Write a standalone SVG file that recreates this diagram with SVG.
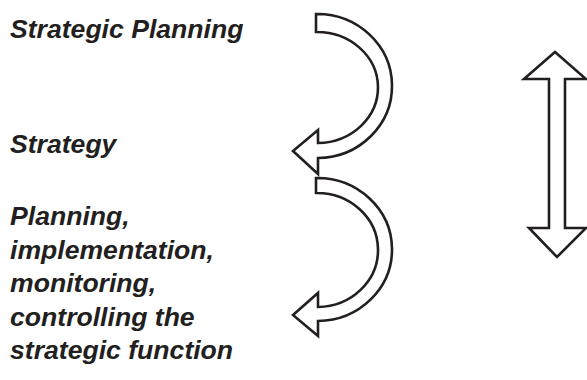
<svg xmlns="http://www.w3.org/2000/svg" width="587" height="380" viewBox="0 0 587 380">
  <style>
    .label { font-family: "Liberation Sans", Arial, sans-serif; font-weight: bold; font-style: italic; font-size: 26.6px; fill: #231f20; }
    .outline { fill: #ffffff; stroke: #231f20; stroke-width: 2.6; stroke-linejoin: miter; }
  </style>
  <rect width="587" height="380" fill="#ffffff"/>

  <g id="label-strategic-planning">
    <text class="label" x="10" y="38">Strategic Planning</text>
  </g>
  <g id="label-strategy">
    <text class="label" x="10" y="153">Strategy</text>
  </g>
  <g id="label-functions">
    <text class="label" x="10" y="225">Planning,</text>
    <text class="label" x="10" y="258.5">implementation,</text>
    <text class="label" x="10" y="292">monitoring,</text>
    <text class="label" x="10" y="325.5">controlling the</text>
    <text class="label" x="10" y="359">strategic function</text>
  </g>

  <g id="connectors">
    <!-- curved arrow: strategic planning to strategy -->
    <path id="arc-upper" class="outline" d="M316,14 A75,72 0 0 1 318,158 L318,174 L293,151 L318,130 L318,143 A61,55.5 0 0 0 316,32 Z"/>
    <!-- curved arrow: strategy to the functional tasks -->
    <path id="arc-lower" class="outline" d="M316,178 A75,71.5 0 0 1 318,321 L318,336 L293,315 L318,293 L318,307 A61,57 0 0 0 316,193 Z"/>
    <!-- two-way vertical arrow -->
    <path id="two-way" class="outline" d="M555,52 L586,79 L565,79 L565,228 L586,228 L557,257 L529,228 L549,228 L549,79 L524,79 Z"/>
  </g>
</svg>
